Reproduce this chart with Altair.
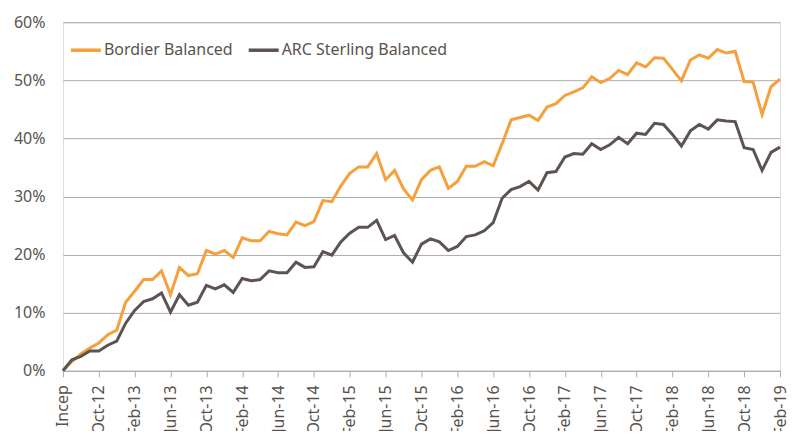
import altair as alt
import pandas as pd

# Category labels: inception (Jun-12) then monthly to Feb-19
month_names = ["Jan", "Feb", "Mar", "Apr", "May", "Jun", "Jul", "Aug", "Sep", "Oct", "Nov", "Dec"]
periods = ["Incep"]
for yr in range(2012, 2020):
    for m in range(12):
        if yr == 2012 and m < 6:
            continue
        if yr == 2019 and m > 1:
            continue
        periods.append(f"{month_names[m]}-{str(yr)[2:]}")

bordier = [
    0.0, 1.6, 2.9, 3.9, 4.8, 6.2, 7.0, 11.8, 13.7, 15.7,
    15.7, 17.2, 13.1, 17.8, 16.4, 16.7, 20.7, 20.1, 20.7, 19.5,
    22.9, 22.4, 22.4, 24.0, 23.6, 23.4, 25.6, 25.0, 25.7, 29.3,
    29.1, 31.8, 34.0, 35.1, 35.1, 37.4, 32.9, 34.5, 31.3, 29.4,
    32.9, 34.5, 35.1, 31.4, 32.6, 35.2, 35.2, 36.0, 35.3, 39.1,
    43.2, 43.6, 44.0, 43.1, 45.4, 46.0, 47.4, 48.0, 48.7, 50.6,
    49.6, 50.3, 51.7, 51.0, 53.0, 52.3, 53.9, 53.8, 51.9, 49.9,
    53.5, 54.4, 53.8, 55.3, 54.7, 55.0, 49.8, 49.7, 44.1, 48.9,
    50.2,
]
arc = [
    0.0, 1.9, 2.5, 3.4, 3.4, 4.4, 5.1, 8.2, 10.4, 11.9,
    12.4, 13.4, 10.1, 13.1, 11.3, 11.8, 14.7, 14.1, 14.8, 13.5,
    15.9, 15.5, 15.7, 17.2, 16.9, 16.9, 18.7, 17.8, 17.9, 20.5,
    19.9, 22.2, 23.7, 24.7, 24.7, 25.9, 22.6, 23.3, 20.3, 18.7,
    21.8, 22.7, 22.2, 20.7, 21.4, 23.1, 23.4, 24.1, 25.5, 29.7,
    31.2, 31.7, 32.6, 31.1, 34.1, 34.3, 36.8, 37.4, 37.3, 39.1,
    38.1, 38.9, 40.2, 39.1, 40.9, 40.7, 42.6, 42.4, 40.7, 38.7,
    41.3, 42.4, 41.6, 43.2, 43.0, 42.9, 38.4, 38.1, 34.5, 37.6,
    38.5,
]
series_names = ["Bordier Balanced", "ARC Sterling Balanced"]
series_colors = ["#F5A03C", "#5D5452"]
y_ticks = [0, 0.1, 0.2, 0.3, 0.4, 0.5, 0.6]

rows = []
for i, p in enumerate(periods):
    rows.append({"period": p, "order": i, "series": series_names[0], "value": bordier[i] / 100})
    rows.append({"period": p, "order": i, "series": series_names[1], "value": arc[i] / 100})
df = pd.DataFrame(rows)

text_color = "#595350"
font = "Noto Sans"

chart = alt.Chart(df).mark_line(strokeWidth=3, strokeJoin="miter").encode(
    x=alt.X(
        "period:N",
        sort=periods,
        scale=alt.Scale(type="point", padding=0),
        axis=alt.Axis(
            title=None,
            values=periods[::4],
            labelAngle=-90,
            labelFontSize=16,
            labelFont=font,
            labelColor=text_color,
            labelPadding=8,
            tickSize=6,
            tickColor="#ADADAD",
            domainColor="#ADADAD",
            grid=False,
        ),
    ),
    y=alt.Y(
        "value:Q",
        scale=alt.Scale(domain=[0, 0.6], nice=False),
        axis=alt.Axis(
            title=None,
            values=y_ticks,
            format=".0%",
            labelFontSize=16,
            labelFont=font,
            labelColor=text_color,
            labelPadding=18,
            ticks=False,
            domain=False,
            gridColor="#ADADAD",
            gridWidth=1,
        ),
    ),
    color=alt.Color(
        "series:N",
        sort=series_names,
        scale=alt.Scale(domain=series_names, range=series_colors),
        legend=alt.Legend(
            title=None,
            orient="none",
            legendX=6,
            legendY=11,
            direction="horizontal",
            symbolType="stroke",
            symbolSize=900,
            symbolStrokeWidth=3.5,
            labelFontSize=16,
            labelFont=font,
            labelColor=text_color,
            labelLimit=0,
            labelOffset=1,
            columnPadding=8,
            padding=0,
        ),
    ),
    order="order:Q",
).properties(
    width=718,
    height=349,
    autosize=alt.AutoSizeParams(type="none"),
    padding={"left": 55, "top": 14, "right": 10, "bottom": 60},
).configure_view(stroke=None).configure(background="white")

chart.save("out.html", embed_options={"renderer": "svg", "actions": False})
